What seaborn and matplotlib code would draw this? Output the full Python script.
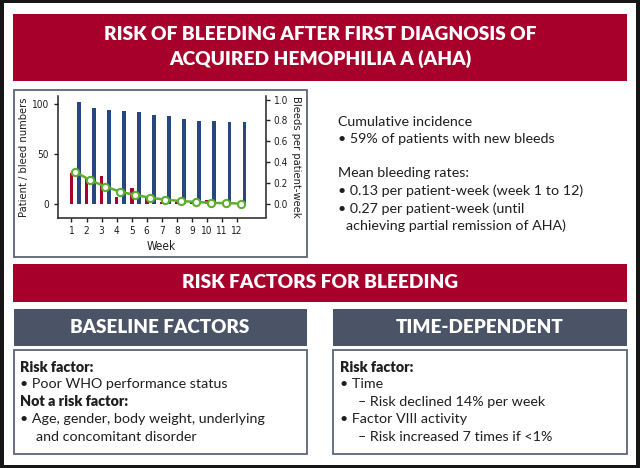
import numpy as np
import pandas as pd
import matplotlib
matplotlib.use("Agg")
import matplotlib.pyplot as plt
from matplotlib.patches import Rectangle
import seaborn as sns

# ---------------- data ----------------
weeks = [1, 2, 3, 4, 5, 6, 7, 8, 9, 10, 11, 12]
patients = [102, 96, 94, 93, 92, 89, 88, 85, 83, 83, 82, 82]
bleeds = [31, 25, 28, 7, 16, 6, 2, 2, 3, 4, 0, 0]
bleed_rate = [0.31, 0.23, 0.17, 0.12, 0.09, 0.063, 0.045, 0.032, 0.024, 0.015, 0.012, 0.008]
left_ticks = [0, 50, 100]
right_ticks = [0.0, 0.2, 0.4, 0.6, 0.8, 1.0]

title_lines = ["RISK OF BLEEDING AFTER FIRST DIAGNOSIS OF", "ACQUIRED HEMOPHILIA A (AHA)"]
section_title = "RISK FACTORS FOR BLEEDING"
left_header = "BASELINE FACTORS"
right_header = "TIME-DEPENDENT"

# ---------------- style ----------------
RED = "#A6002B"
BLUE = "#27477F"
GREEN = "#5DAE32"
SLATE = "#4B5466"
BORDER = "#5A637A"
TEXT = "#1E1E1E"

sns.set_theme(style="ticks")
plt.rcParams["font.family"] = ["Lato", "DejaVu Sans"]
chart_font = dict(family="DejaVu Sans", stretch="condensed")

W, H = 640, 468
fig = plt.figure(figsize=(W / 100, H / 100), dpi=100, facecolor="#161616")


def rect(x0, y0, x1, y1, fc, ec="none", lw=0, z=0):
    fig.add_artist(Rectangle((x0 / W, 1 - y1 / H), (x1 - x0) / W, (y1 - y0) / H,
                             transform=fig.transFigure, facecolor=fc,
                             edgecolor=ec, linewidth=lw, zorder=z))


def txt(x, y, s, **kw):
    kw.setdefault("va", "center")
    kw.setdefault("color", TEXT)
    fig.text(x / W, 1 - y / H, s, **kw)


# page background
rect(4, 3, 636, 465, "white")

# title banner
rect(13, 14, 627, 81, RED)
txt(320, 35, title_lines[0], ha="center", color="white", fontsize=13.8, fontweight="heavy")
txt(320, 58.5, title_lines[1], ha="center", color="white", fontsize=13.8, fontweight="heavy")

# chart box
rect(13.5, 90, 307, 257, "white", BORDER, 1.3)

# ---------------- chart ----------------
ax = fig.add_axes([57.5 / W, 1 - 217.5 / H, 208 / W, (217.5 - 96.5) / H])
ax.set_facecolor("none")
df = pd.DataFrame({"week": weeks, "patients": patients, "bleeds": bleeds, "rate": bleed_rate})
blue_offset = 0.5
line_offset = 0.25
df["week_blue"] = df["week"] + blue_offset
df["week_line"] = df["week"] + line_offset

sns.barplot(data=df, x="week", y="bleeds", native_scale=True, width=0.25,
            color=RED, saturation=1, linewidth=0, ax=ax)
sns.barplot(data=df, x="week_blue", y="patients", native_scale=True, width=0.25,
            color=BLUE, saturation=1, linewidth=0, ax=ax)

ax.set_xlim(0.07, 13.9)
ax.set_ylim(-13, 107)
ax.set_xticks(weeks)
ax.set_xticklabels([str(w) for w in weeks])
ax.set_yticks(left_ticks)
ax.set_xlabel("Week", fontsize=8.5, color=TEXT, **chart_font)
ax.set_ylabel("Patient / bleed numbers", fontsize=8, color=TEXT, **chart_font)
ax.xaxis.set_label_coords(0.5, -0.19)
ax.yaxis.set_label_coords(-0.135, 0.5)
for s in ["top", "right"]:
    ax.spines[s].set_visible(False)
for s in ["left", "bottom"]:
    ax.spines[s].set_color("#222222")
    ax.spines[s].set_linewidth(1.1)
ax.tick_params(axis="both", direction="out", length=3, width=1, color="#222222",
               labelsize=7.2, labelcolor=TEXT, pad=3)
for lab in ax.get_xticklabels() + ax.get_yticklabels():
    lab.set_family("DejaVu Sans")
    lab.set_stretch("condensed")

ax2 = ax.twinx()
sns.lineplot(data=df, x="week_line", y="rate", color=GREEN, linewidth=1.8,
             marker="o", markersize=5.2, markerfacecolor="white",
             markeredgecolor=GREEN, markeredgewidth=1.5, ax=ax2)
ax2.set_ylim(-13 / 104, 107 / 104)
ax2.set_yticks(right_ticks)
ax2.set_yticklabels([f"{t:.1f}" for t in right_ticks])
ax2.set_xlim(0.07, 13.9)
ax2.set_ylabel("Bleeds per patient-week", fontsize=8, color=TEXT,
               rotation=270, va="center", **chart_font)
ax2.yaxis.set_label_coords(1.145, 0.5)
ax2.set_xlabel("")
for s in ["top", "left", "bottom"]:
    ax2.spines[s].set_visible(False)
ax2.spines["right"].set_color("#222222")
ax2.spines["right"].set_linewidth(1.1)
ax2.tick_params(axis="y", direction="out", length=3, width=1, color="#222222",
                labelsize=7.2, labelcolor=TEXT, pad=3)
for lab in ax2.get_yticklabels():
    lab.set_family("DejaVu Sans")
    lab.set_stretch("condensed")

# ---------------- right-hand text ----------------
fs = 10.3
txt(338, 121.5, "Cumulative incidence", fontsize=fs)
txt(338, 139, "\u2022 59% of patients with new bleeds", fontsize=fs)
txt(338, 173, "Mean bleeding rates:", fontsize=fs)
txt(338, 191, "\u2022 0.13 per patient-week (week 1 to 12)", fontsize=fs)
txt(338, 208.5, "\u2022 0.27 per patient-week (until", fontsize=fs)
txt(345.5, 226, "achieving partial remission of AHA)", fontsize=fs)

# ---------------- section banner ----------------
rect(13, 264, 627, 302, RED)
txt(320, 282.5, section_title, ha="center", color="white", fontsize=13.8, fontweight="heavy")

# headers
rect(13.5, 309, 307, 346, SLATE)
rect(333, 309, 627, 346, SLATE)
txt(160, 327.5, left_header, ha="center", color="white", fontsize=13.6, fontweight="heavy")
txt(480, 327.5, right_header, ha="center", color="white", fontsize=13.6, fontweight="heavy")

# content boxes
rect(13.5, 349.5, 307, 454, "white", BORDER, 1.3)
rect(333, 349.5, 627, 454, "white", BORDER, 1.3)

txt(19.5, 368, "Risk factor:", fontsize=fs, fontweight="heavy")
txt(19.5, 384.5, "\u2022 Poor WHO performance status", fontsize=fs)
txt(19.5, 402, "Not a risk factor:", fontsize=fs, fontweight="heavy")
txt(19.5, 419, "\u2022 Age, gender, body weight, underlying", fontsize=fs)
txt(35.5, 437, "and concomitant disorder", fontsize=fs)

txt(339.5, 368, "Risk factor:", fontsize=fs, fontweight="heavy")
txt(339.5, 384.5, "\u2022 Time", fontsize=fs)
txt(358.5, 402, "\u2013 Risk declined 14% per week", fontsize=fs)
txt(339.5, 419, "\u2022 Factor VIII activity", fontsize=fs)
txt(358.5, 437, "\u2013 Risk increased 7 times if <1%", fontsize=fs)

fig.savefig("out.png", dpi=100, facecolor=fig.get_facecolor())
